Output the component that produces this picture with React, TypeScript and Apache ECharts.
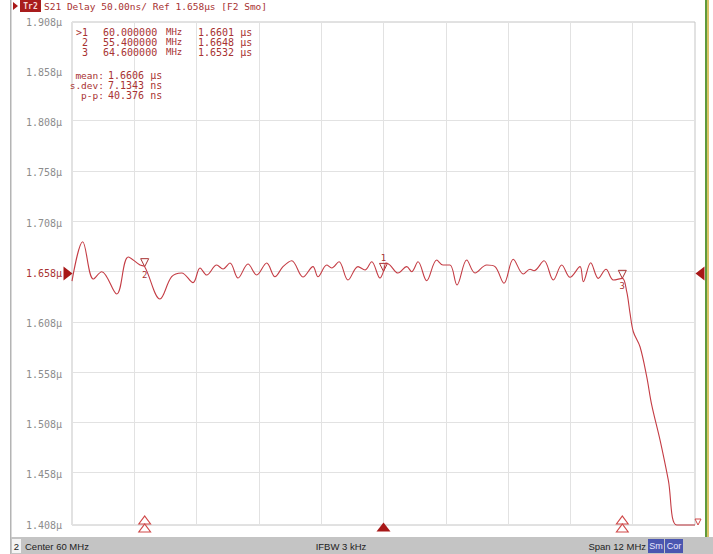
import React, { useEffect, useRef } from "react";
import * as echarts from "echarts";

// Trace: frequency (MHz) and group delay (µs)
const freqMHz = [
  54.0, 54.206, 54.41, 54.572, 54.861, 55.084, 55.31, 55.4, 55.695, 55.92,
  56.113, 56.331, 56.466, 56.594, 56.787, 56.909, 57.043, 57.198, 57.39, 57.558,
  57.75, 57.91, 58.064, 58.232, 58.449, 58.642, 58.738, 58.906, 59.002, 59.143,
  59.316, 59.509, 59.644, 59.773, 59.933, 60.0, 60.048, 60.125, 60.279, 60.447,
  60.543, 60.665, 60.832, 61.025, 61.146, 61.281, 61.416, 61.603, 61.763, 61.988,
  62.148, 62.321, 62.5, 62.693, 62.822, 62.899, 63.092, 63.271, 63.433, 63.592,
  63.785, 63.849, 63.991, 64.138, 64.286, 64.427, 64.6, 64.685, 64.748, 64.812,
  64.941, 65.07, 65.166, 65.326, 65.486, 65.648, 66.0,
];
const delayUs = [
  1.6505, 1.6896, 1.6525, 1.6598, 1.6376, 1.6744, 1.6664, 1.6648, 1.6327, 1.6548,
  1.6585, 1.6489, 1.6635, 1.6565, 1.6664, 1.6625, 1.6684, 1.6535, 1.6674, 1.6565,
  1.6684, 1.6548, 1.6648, 1.6707, 1.6545, 1.6648, 1.6548, 1.6664, 1.6635, 1.6697,
  1.6515, 1.6648, 1.6615, 1.6697, 1.6535, 1.6601, 1.6684, 1.6664, 1.6585, 1.6648,
  1.6598, 1.6697, 1.6508, 1.6714, 1.6664, 1.6664, 1.6466, 1.6714, 1.6585, 1.6664,
  1.6648, 1.6483, 1.6721, 1.6575, 1.6622, 1.6608, 1.6707, 1.6515, 1.6664, 1.6542,
  1.6648, 1.6498, 1.6687, 1.6532, 1.6622, 1.6515, 1.6532, 1.6399, 1.6187, 1.6001,
  1.5852, 1.5554, 1.5273, 1.4925, 1.4527, 1.408, 1.408,
];

// Markers
const markerNames = ["1", "2", "3"];
const markerFreqs = [60.0, 55.4, 64.6];
const markerVals = [1.6601, 1.6648, 1.6532];
const markerTableRows = [
  [">1", "60.000000", "MHz", "1.6601 µs"],
  ["2", "55.400000", "MHz", "1.6648 µs"],
  ["3", "64.600000", "MHz", "1.6532 µs"],
];
const statNames = ["mean:", "s.dev:", "p-p:"];
const statValues = ["1.6606 µs", "7.1343 ns", "40.376 ns"];

// Axes
const yMin = 1.408;
const yMax = 1.908;
const yStep = 0.05;
const refLevel = 1.658;
// horizontal graticule lines drawn (1.858 is hidden behind the marker readout)
const yGridLines = [1.458, 1.508, 1.558, 1.608, 1.658, 1.708, 1.758, 1.808];
const xMin = 54;
const xMax = 66;
const xStep = 1.2;

const headerText = "S21 Delay 50.00ns/ Ref 1.658µs [F2 Smo]";
const statusLeft = "Center 60 MHz";
const statusMid = "IFBW 3 kHz";
const statusRight = "Span 12 MHz";

const RED = "#a83232";
const TRACE = "#c43c44";
const GRID = "#e2e2e2";
const MONO = "'DejaVu Sans Mono', 'Liberation Mono', monospace";
const NARROW = "'Liberation Sans Narrow', 'Liberation Sans', Arial, sans-serif";

export default function App() {
  const ref = useRef<HTMLDivElement>(null);
  useEffect(() => {
    document.body.style.margin = "0";
    const chart = echarts.init(ref.current!, undefined, { renderer: "svg" });
    const data = freqMHz.map((f, i) => [f, delayUs[i]]);

    const traceMarkers = markerNames.map((n, i) => ({
      name: "m" + n,
      coord: [markerFreqs[i], markerVals[i]],
      symbol: "triangle",
      symbolRotate: 180,
      symbolSize: [8, 8],
      symbolOffset: [0, -4],
      itemStyle: { color: "rgba(255,255,255,0)", borderColor: RED, borderWidth: 1 },
      label: {
        show: true,
        formatter: n,
        position: i === 0 ? "top" : "bottom",
        distance: i === 0 ? 0 : 3,
        color: RED,
        fontSize: 9,
        fontFamily: MONO,
      },
    }));

    const bottomMarkers: any[] = [];
    [markerFreqs[1], markerFreqs[2]].forEach((f) => {
      [-9, -1].forEach((off) => {
        bottomMarkers.push({
          coord: [f, yMin],
          symbol: "triangle",
          symbolSize: [12, 8],
          symbolOffset: [0, off + 4],
          itemStyle: { color: "#ffffff", borderColor: "#d04848", borderWidth: 1 },
          label: { show: false },
        });
      });
    });
    bottomMarkers.push({
      coord: [markerFreqs[0], yMin],
      symbol: "triangle",
      symbolSize: [14, 9],
      symbolOffset: [0, 2],
      itemStyle: { color: "#a81818" },
      label: { show: false },
    });
    bottomMarkers.push({
      coord: [xMin, refLevel],
      symbol: "triangle",
      symbolRotate: -90,
      symbolSize: [14, 9],
      symbolOffset: [-4, 0],
      itemStyle: { color: "#a81818" },
      label: { show: false },
    });
    bottomMarkers.push({
      coord: [xMax, refLevel],
      symbol: "triangle",
      symbolRotate: 90,
      symbolSize: [14, 9],
      symbolOffset: [5, 0],
      itemStyle: { color: "#a81818" },
      label: { show: false },
    });
    bottomMarkers.push({
      coord: [xMax, yMin],
      symbol: "triangle",
      symbolRotate: 180,
      symbolSize: [6, 6],
      symbolOffset: [3, -3],
      itemStyle: { color: "rgba(255,255,255,0)", borderColor: "#d04848", borderWidth: 1 },
      label: { show: false },
    });

    const graphics: any[] = [
      { type: "rect", shape: { x: 0, y: 0, width: 713, height: 554 }, style: { fill: "#ffffff" }, z: -10 },
      { type: "rect", shape: { x: 10, y: 0, width: 1.5, height: 554 }, style: { fill: "#b4b4b4" }, z: 10 },
      { type: "rect", shape: { x: 705, y: 0, width: 2, height: 537 }, style: { fill: "#5f9a3c" }, z: 10 },
      { type: "rect", shape: { x: 707, y: 0, width: 2, height: 537 }, style: { fill: "#d8c468" }, z: 10 },
      // header
      { type: "polygon", shape: { points: [[13, 2], [18, 6], [13, 10]] }, style: { fill: "#a81818" }, z: 10 },
      { type: "rect", shape: { x: 20, y: 0, width: 21, height: 12 }, style: { fill: "#a81c1c" }, z: 10 },
      { type: "text", x: 30.5, y: 6, style: { text: "Tr2", fill: "#f4d8d8", font: "bold 8px " + MONO, align: "center", verticalAlign: "middle" }, z: 11 },
      { type: "text", x: 44, y: 6.5, style: { text: headerText, fill: RED, font: "9.5px " + MONO, verticalAlign: "middle" }, z: 10 },
      // status bar
      { type: "rect", shape: { x: 11, y: 537, width: 702, height: 17 }, style: { fill: "#c4c4c4" }, z: 10 },
      { type: "rect", shape: { x: 12, y: 539, width: 9, height: 14 }, style: { fill: "#f4f4f4" }, z: 11 },
      { type: "text", x: 16.5, y: 546, style: { text: "2", fill: "#222", font: "9.5px " + NARROW, align: "center", verticalAlign: "middle" }, z: 12 },
      { type: "text", x: 25, y: 546, style: { text: statusLeft, fill: "#222", font: "9.5px " + NARROW, verticalAlign: "middle" }, z: 12 },
      { type: "text", x: 341, y: 546, style: { text: statusMid, fill: "#222", font: "9.5px " + NARROW, align: "center", verticalAlign: "middle" }, z: 12 },
      { type: "text", x: 646, y: 546, style: { text: statusRight, fill: "#222", font: "9.5px " + NARROW, align: "right", verticalAlign: "middle" }, z: 12 },
      { type: "rect", shape: { x: 648, y: 539, width: 16, height: 14 }, style: { fill: "#4a56b0" }, z: 11 },
      { type: "text", x: 656, y: 546, style: { text: "Sm", fill: "#e8e8ff", font: "9px " + NARROW, align: "center", verticalAlign: "middle" }, z: 12 },
      { type: "rect", shape: { x: 665, y: 539, width: 18, height: 14 }, style: { fill: "#4a56b0" }, z: 11 },
      { type: "text", x: 674, y: 546, style: { text: "Cor", fill: "#e8e8ff", font: "9px " + NARROW, align: "center", verticalAlign: "middle" }, z: 12 },
    ];

    const rowY = [32, 42, 52];
    markerTableRows.forEach((r, i) => {
      const y = rowY[i];
      graphics.push({ type: "text", x: 88, y, style: { text: r[0], fill: RED, font: "10px " + MONO, align: "right", verticalAlign: "middle" }, z: 10 });
      graphics.push({ type: "text", x: 103, y, style: { text: r[1], fill: RED, font: "10px " + MONO, verticalAlign: "middle" }, z: 10 });
      graphics.push({ type: "text", x: 166, y, style: { text: r[2], fill: RED, font: "9px " + MONO, verticalAlign: "middle" }, z: 10 });
      graphics.push({ type: "text", x: 198, y, style: { text: r[3], fill: RED, font: "10px " + MONO, verticalAlign: "middle" }, z: 10 });
    });
    const statY = [75, 85, 95];
    statNames.forEach((n, i) => {
      graphics.push({ type: "text", x: 104, y: statY[i], style: { text: n, fill: RED, font: "9.5px " + MONO, align: "right", verticalAlign: "middle" }, z: 10 });
      graphics.push({ type: "text", x: 108, y: statY[i], style: { text: statValues[i], fill: RED, font: "10px " + MONO, verticalAlign: "middle" }, z: 10 });
    });

    chart.setOption({
      animation: false,
      backgroundColor: "#ffffff",
      grid: {
        left: 72,
        right: 18,
        top: 22,
        bottom: 29,
        show: true,
        borderColor: "#c4c4c4",
        borderWidth: 1,
        backgroundColor: "transparent",
      },
      xAxis: {
        type: "value",
        min: xMin,
        max: xMax,
        interval: xStep,
        axisLabel: { show: false },
        axisTick: { show: false },
        axisLine: { show: false },
        splitLine: { show: true, lineStyle: { color: GRID, width: 1 } },
      },
      yAxis: {
        type: "value",
        min: yMin,
        max: yMax,
        interval: yStep,
        axisTick: { show: false },
        axisLine: { show: false },
        splitLine: { show: false },
        axisLabel: {
          margin: 10,
          color: "#8c8c8c",
          fontFamily: MONO,
          fontSize: 10,
          formatter: (v: number) => {
            const s = v.toFixed(3) + "µ";
            return Math.abs(v - refLevel) < 1e-6 ? "{r|" + s + "}" : s;
          },
          rich: { r: { color: RED, fontFamily: MONO, fontSize: 10 } },
        },
      },
      graphic: graphics,
      series: [
        {
          type: "line",
          name: "graticule",
          data: [],
          silent: true,
          z: 1,
          markLine: {
            silent: true,
            symbol: "none",
            label: { show: false },
            lineStyle: { color: GRID, width: 1, type: "solid" },
            data: yGridLines.map((v) => ({ yAxis: v })),
          },
        },
        {
          type: "line",
          name: "S21 Delay",
          data,
          smooth: 0.35,
          showSymbol: false,
          symbol: "none",
          clip: false,
          lineStyle: { color: TRACE, width: 1.1 },
          markPoint: { silent: true, data: [...traceMarkers, ...bottomMarkers] },
          z: 5,
        },
      ],
    });
    return () => chart.dispose();
  }, []);
  return <div ref={ref} style={{ width: 713, height: 554 }} />;
}
